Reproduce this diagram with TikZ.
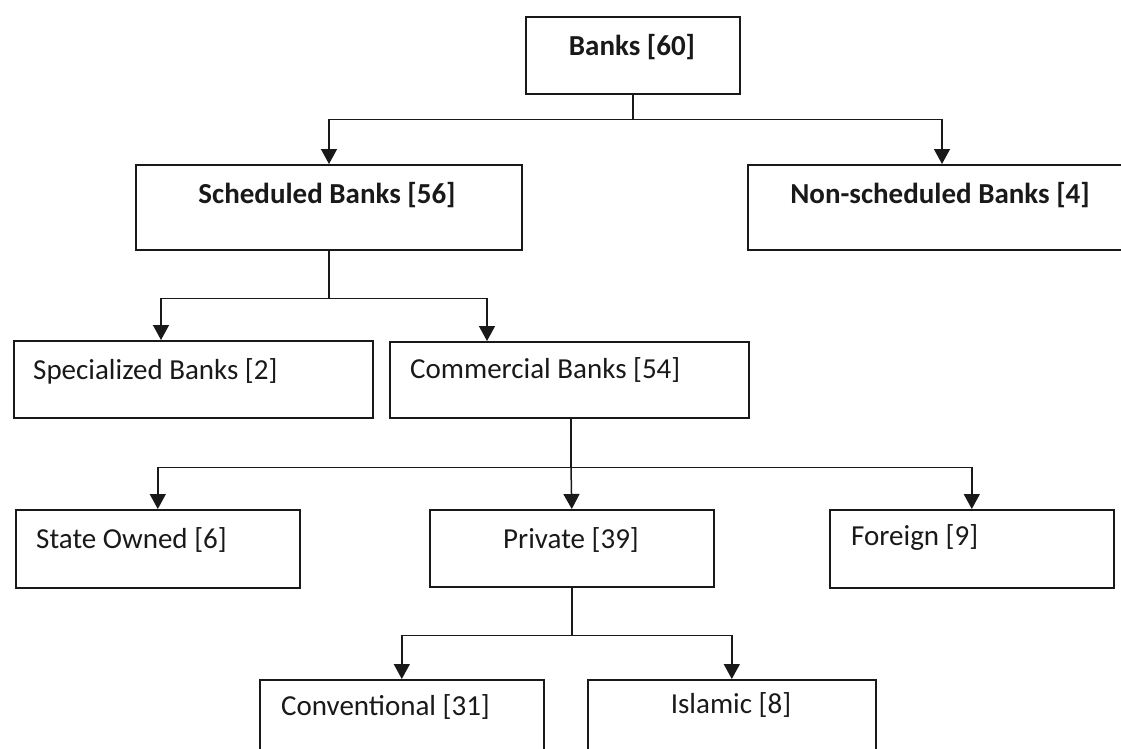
\documentclass[tikz,border=0pt]{standalone}
\usepackage{fontspec}
\setmainfont{Carlito}
\usetikzlibrary{arrows.meta,calc}
\begin{document}
\begin{tikzpicture}[x=1pt,y=-1pt,
  box/.style={draw=black!90, line width=1.6pt, rectangle, inner sep=0pt, anchor=north west},
  conn/.style={line width=1.5pt, draw=black!90},
  arr/.style={conn, -{Triangle[width=16pt,length=15pt]}},
  lbl/.style={font=\fontsize{29}{35}\selectfont, inner sep=0pt, text=black!90},
  blbl/.style={font=\fontsize{29}{35}\selectfont\bfseries, inner sep=0pt, text=black!90}]
\clip (0,0) rectangle (1121,749);
% boxes
\node[box, minimum width=214pt, minimum height=77pt] (banks) at (525,16) {};
\node[box, minimum width=386pt, minimum height=85pt] (sched) at (135,164) {};
\node[box, minimum width=386pt, minimum height=85pt] (nons) at (747,164) {};
\node[box, minimum width=359pt, minimum height=77pt] (spec) at (13,340) {};
\node[box, minimum width=359pt, minimum height=76pt] (comm) at (389,341) {};
\node[box, minimum width=284pt, minimum height=78pt] (state) at (15,509) {};
\node[box, minimum width=284pt, minimum height=77pt] (priv) at (429,509) {};
\node[box, minimum width=284pt, minimum height=78pt] (foreign) at (829,509) {};
\node[box, minimum width=284pt, minimum height=100pt] (conv) at (259,679) {};
\node[box, minimum width=288pt, minimum height=100pt] (isl) at (587,679) {};
% labels
\node[blbl] (tbanks) at (632,47) {Banks [60]};
\node[blbl] (tsched) at (327,195) {Scheduled Banks [56]};
\node[blbl] (tnons) at (940,195) {Non-scheduled Banks [4]};
\node[lbl, anchor=west] (tspec) at (33,371) {Specialized Banks [2]};
\node[lbl, anchor=west] (tcomm) at (410,370) {Commercial Banks [54]};
\node[lbl, anchor=west] (tstate) at (36,540) {State Owned [6]};
\node[lbl] (tpriv) at (571,540) {Private [39]};
\node[lbl, anchor=west] (tforeign) at (851,538) {Foreign [9]};
\node[lbl, anchor=west] (tconv) at (281,707) {Conventional [31]};
\node[lbl] (tisl) at (731,705) {Islamic [8]};
% connectors
\draw[conn] ([xshift=108pt]banks.south west) -- ++(0,25) coordinate (j1);
\draw[arr] (j1) -| ([xshift=194pt]sched.north west);
\draw[arr] (j1) -| ([xshift=195pt]nons.north west);
\draw[conn] ([xshift=194pt]sched.south west) -- ++(0,48) coordinate (j2);
\draw[arr] (j2) -| ([xshift=148pt]spec.north west);
\draw[arr] (j2) -| ([xshift=98pt]comm.north west);
\draw[conn] ([xshift=182pt]comm.south west) -- ++(0,49) coordinate (j3);
\draw[arr] (j3) -| (state.north);
\draw[arr] (j3) -- (priv.north);
\draw[arr] (j3) -| (foreign.north);
\draw[conn] (priv.south) -- ++(0,48) coordinate (j4);
\draw[arr] (j4) -| (conv.north);
\draw[arr] (j4) -| (isl.north);
\end{tikzpicture}
\end{document}
